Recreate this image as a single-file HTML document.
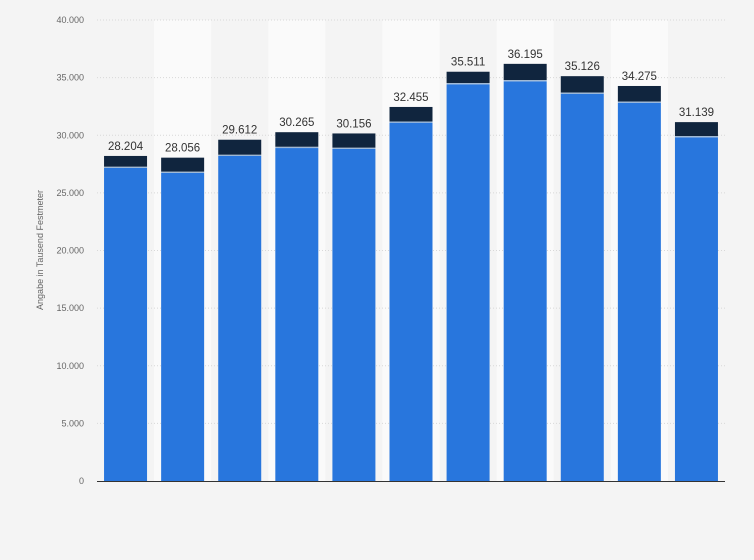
<!DOCTYPE html>
<html><head><meta charset="utf-8"><style>
body{margin:0;background:#f4f4f4;}
svg{display:block;font-family:"Liberation Sans",sans-serif;}
</style></head><body>
<svg id="chart" width="754" height="560" viewBox="0 0 754 560">
<rect x="0" y="0" width="754" height="560" fill="#f4f4f4"/>
<g id="bands"></g><g id="grid"></g><g id="bars"></g><g id="labels"></g>
<line x1="97" y1="481.5" x2="725" y2="481.5" stroke="#333" stroke-width="1"/>
<text transform="translate(43,250) rotate(-90)" text-anchor="middle" font-size="9" fill="#666">Angabe in Tausend Festmeter</text>
</svg>
<script>
const categories = ["1","2","3","4","5","6","7","8","9","10","11"];
const blueValues = [27160, 26730, 28200, 28890, 28810, 31090, 34420, 34680, 33600, 32820, 29820];
const totalValues = [28204, 28056, 29612, 30265, 30156, 32455, 35511, 36195, 35126, 34275, 31139];
const totalLabels = ["28.204","28.056","29.612","30.265","30.156","32.455","35.511","36.195","35.126","34.275","31.139"];
const yTicks = [0,5000,10000,15000,20000,25000,30000,35000,40000];
const yTickLabels = ["0","5.000","10.000","15.000","20.000","25.000","30.000","35.000","40.000"];
const NS="http://www.w3.org/2000/svg";
const plotLeft=97,plotRight=725,plotTop=20,plotBottom=481,maxV=40000;
const step=(plotRight-plotLeft)/categories.length, bw=43;
function yScale(v){return plotBottom-v/maxV*(plotBottom-plotTop);}
function xc(i){return plotLeft+step*(i+0.5);}
function mk(tag,parent,attrs){const e=document.createElementNS(NS,tag);for(const k in attrs)e.setAttribute(k,attrs[k]);document.getElementById(parent).appendChild(e);return e;}
categories.forEach((c,i)=>{ if(i%2===1){const b=mk('rect','bands',{x:plotLeft+step*i,y:plotTop,width:step,height:plotBottom-plotTop,fill:'#fafafa'});

}});
yTicks.forEach((t,i)=>{
 if(t>0){const g=mk('line','grid',{x1:plotLeft,x2:plotRight,y1:yScale(t),y2:yScale(t),stroke:'#d8d8d8','stroke-dasharray':'1,2'});
 
 }
 const tx=mk('text','grid',{x:84,y:yScale(t)+3,'text-anchor':'end','font-size':'9',fill:'#666'});
 
 
 tx.textContent=yTickLabels[i];
});
categories.forEach((c,i)=>{
 const x=xc(i)-bw/2;
 const b=mk('rect','bars',{x:x,y:yScale(blueValues[i]),width:bw,height:plotBottom-yScale(blueValues[i]),fill:'#2876dd'});
 
 
 const d=mk('rect','bars',{x:x,y:yScale(totalValues[i]),width:bw,height:Math.max(0,yScale(blueValues[i])-yScale(totalValues[i])-1.2),fill:'#10253e'});
 
 
 const s=mk('rect','bars',{x:x,y:yScale(blueValues[i])-1.2,width:bw,height:1.2,fill:'#9db8d6'});
 
 
 const t=mk('text','labels',{x:xc(i),y:yScale(totalValues[i])-6,'text-anchor':'middle','font-size':'11.5',fill:'#333'});
 
 
 t.textContent=totalLabels[i];
});
</script>
</body></html>
